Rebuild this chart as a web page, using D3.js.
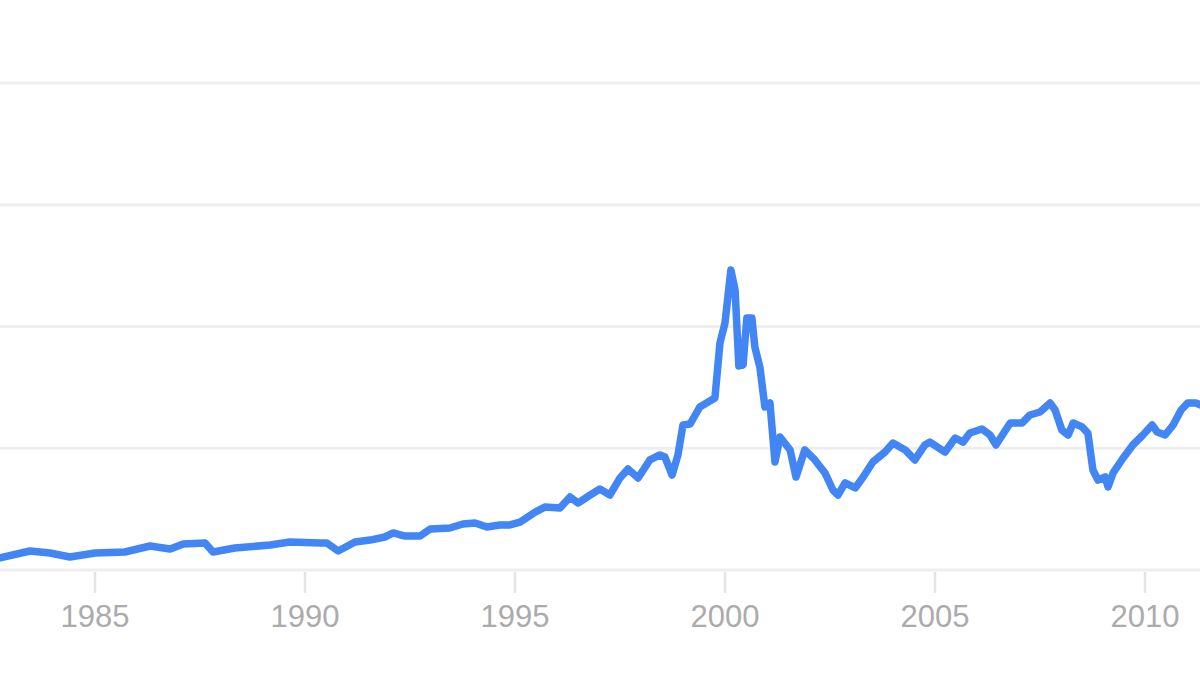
<!DOCTYPE html>
<html>
<head>
<meta charset="utf-8">
<script src="https://cdn.jsdelivr.net/npm/d3@7"></script>
<style>
  html, body { margin: 0; padding: 0; background: #fff; }
  svg { display: block; }
  .grid line { stroke: #eeeeee; stroke-width: 3; }
  .tick-mark { stroke: #e4e4e4; stroke-width: 2.5; }
  .year-label { font-family: "Liberation Sans", Arial, sans-serif; font-size: 31px; fill: #ababab; }
  .index-line { fill: none; stroke: #4285f4; stroke-width: 7.5; stroke-linejoin: round; stroke-linecap: round; }
</style>
</head>
<body>
<svg id="chart"></svg>
<script>
// index level (decimal year, value)
const years = [
  1982.74, 1983.45, 1983.93, 1984.40, 1985.00, 1985.71, 1986.31, 1986.79, 1987.10, 1987.62,
  1987.81, 1988.33, 1989.17, 1989.64, 1990.36, 1990.52, 1990.79, 1991.19, 1991.55, 1991.90,
  1992.10, 1992.38, 1992.74, 1992.98, 1993.45, 1993.76, 1994.05, 1994.33, 1994.64, 1994.88,
  1995.12, 1995.48, 1995.71, 1996.07, 1996.31, 1996.50, 1996.79, 1997.02, 1997.26, 1997.50,
  1997.69, 1997.93, 1998.21, 1998.45, 1998.57, 1998.74, 1998.88, 1999.00, 1999.17, 1999.40,
  1999.60, 1999.76, 1999.88, 2000.00, 2000.14, 2000.24, 2000.33, 2000.43, 2000.52, 2000.64,
  2000.71, 2000.83, 2000.95, 2001.07, 2001.19, 2001.31, 2001.55, 2001.69, 2001.90, 2002.14,
  2002.38, 2002.57, 2002.69, 2002.86, 2003.10, 2003.29, 2003.52, 2003.81, 2004.00, 2004.29,
  2004.52, 2004.76, 2004.88, 2005.24, 2005.48, 2005.67, 2005.83, 2006.12, 2006.31, 2006.45,
  2006.79, 2007.07, 2007.26, 2007.50, 2007.74, 2007.86, 2008.02, 2008.17, 2008.29, 2008.50,
  2008.64, 2008.76, 2008.88, 2009.05, 2009.12, 2009.24, 2009.48, 2009.71, 2009.95, 2010.17,
  2010.29, 2010.48, 2010.67, 2010.86, 2011.02, 2011.21, 2011.45
];
const values = [
   99, 156, 140, 107, 140, 148, 197, 172, 214, 222,
  148, 181, 205, 230, 222, 222, 156, 230, 246, 271,
  304, 279, 279, 337, 345, 378, 386, 353, 370, 370,
  394, 476, 517, 509, 600, 550, 616, 665, 616, 756,
  830, 756, 904, 945, 928, 780, 945, 1191, 1199, 1339,
  1380, 1413, 1865, 2029, 2464, 2300, 1676, 1684, 2070, 2070,
  1832, 1667, 1339, 1372, 887, 1092, 986, 764, 986, 904,
  797, 657, 616, 715, 674, 764, 887, 969, 1043, 986,
  904, 1027, 1051, 969, 1084, 1051, 1125, 1158, 1109, 1027,
  1207, 1207, 1273, 1298, 1372, 1314, 1150, 1109, 1207, 1175,
  1125, 821, 739, 764, 682, 797, 920, 1027, 1109, 1191,
  1134, 1109, 1191, 1314, 1372, 1372, 1339
];
const gridValues = [0, 1000, 2000, 3000, 4000];
const tickYears = [1985, 1990, 1995, 2000, 2005, 2010];

function draw(){
  const width = 1200, height = 675;
  const svg = d3.select('#chart')
    .attr('width', width)
    .attr('height', height);

  const x = d3.scaleLinear().domain([1985, 2010]).range([95, 1145]);
  const y = d3.scaleLinear().domain([0, 4000]).range([570, 83]);

  // horizontal gridlines
  svg.append('g')
    .attr('class', 'grid')
    .selectAll('line')
    .data(gridValues)
    .enter().append('line')
    .attr('x1', 0)
    .attr('x2', width)
    .attr('y1', d => y(d))
    .attr('y2', d => y(d));

  // year ticks under the baseline
  const axis = svg.append('g').attr('class', 'x-axis');
  axis.selectAll('line')
    .data(tickYears)
    .enter().append('line')
    .attr('class', 'tick-mark')
    .attr('x1', d => x(d))
    .attr('x2', d => x(d))
    .attr('y1', y(0) + 2)
    .attr('y2', y(0) + 23);

  axis.selectAll('text')
    .data(tickYears)
    .enter().append('text')
    .attr('class', 'year-label')
    .attr('x', d => x(d))
    .attr('y', 627)
    .attr('text-anchor', 'middle')
    .text(d => d);

  const points = years.map((yr, i) => [yr, values[i]]);
  const line = d3.line()
    .x(d => x(d[0]))
    .y(d => y(d[1]));

  svg.append('path')
    .datum(points)
    .attr('class', 'index-line')
    .attr('d', line);
}

draw();
</script>
</body>
</html>
